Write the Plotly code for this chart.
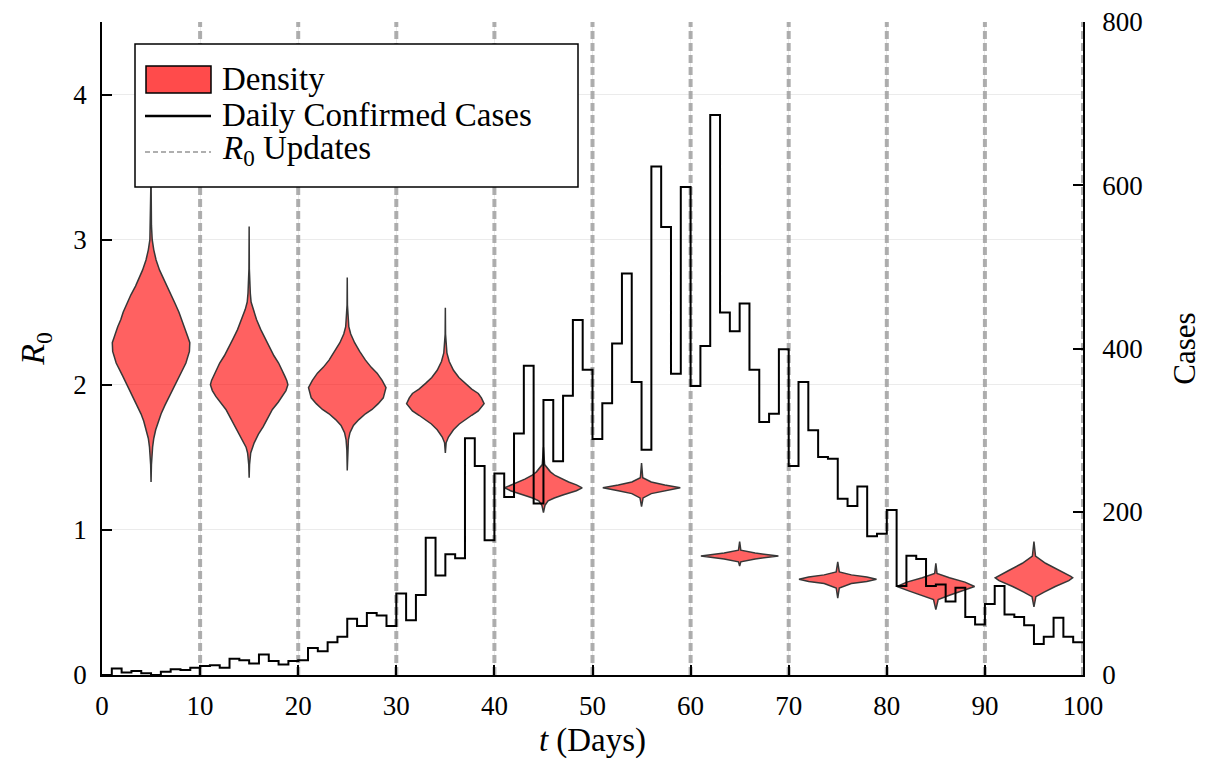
import plotly.graph_objects as go

# ---------------- data ----------------
days = list(range(0, 100))
daily_cases = [0, 8, 3, 5, 2, 0, 4, 7, 6, 9,
               11, 12, 9, 20, 18, 14, 25, 17, 13, 17,
               18, 33, 29, 40, 47, 69, 60, 76, 73, 60,
               100, 67, 98, 168, 122, 148, 143, 290, 256, 165,
               247, 218, 296, 379, 210, 337, 262, 342, 435, 374,
               289, 333, 406, 492, 359, 276, 623, 549, 369, 598,
               354, 403, 686, 444, 421, 455, 374, 310, 320, 399,
               256, 359, 300, 267, 265, 216, 207, 231, 170, 173,
               202, 109, 146, 142, 109, 111, 90, 107, 71, 62,
               87, 109, 74, 71, 61, 38, 47, 70, 47, 40]

update_days = [10, 20, 30, 40, 50, 60, 70, 80, 90, 100]
violin_pos = [5, 15, 25, 35, 45, 55, 65, 75, 85, 95]

# density profiles: R0 levels (ascending) and relative half-widths
v_r = [
    [1.33, 1.45, 1.57, 1.63, 1.69, 1.75, 1.80, 1.86, 1.92, 1.99, 2.06, 2.15, 2.23, 2.29, 2.33, 2.40, 2.45, 2.50, 2.56, 2.62, 2.68, 2.74, 2.79, 2.86, 2.93, 3.00, 3.10, 3.45],
    [1.36, 1.45, 1.53, 1.57, 1.60, 1.66, 1.71, 1.77, 1.83, 1.88, 1.92, 1.96, 2.00, 2.03, 2.06, 2.15, 2.20, 2.26, 2.32, 2.38, 2.45, 2.52, 2.57, 2.63, 2.80, 3.09],
    [1.41, 1.55, 1.62, 1.67, 1.72, 1.76, 1.80, 1.83, 1.87, 1.91, 1.98, 2.03, 2.08, 2.12, 2.17, 2.23, 2.29, 2.35, 2.40, 2.55, 2.74],
    [1.53, 1.60, 1.64, 1.69, 1.73, 1.76, 1.79, 1.82, 1.87, 1.91, 1.94, 1.97, 2.01, 2.05, 2.10, 2.16, 2.22, 2.35, 2.53],
    [1.12, 1.17, 1.20, 1.22, 1.24, 1.27, 1.29, 1.31, 1.33, 1.35, 1.375, 1.40, 1.45, 1.57],
    [1.16, 1.22, 1.25, 1.27, 1.29, 1.31, 1.33, 1.36, 1.46],
    [0.75, 0.78, 0.80, 0.82, 0.84, 0.86, 0.92],
    [0.53, 0.60, 0.63, 0.645, 0.66, 0.675, 0.69, 0.71, 0.78],
    [0.45, 0.52, 0.55, 0.58, 0.61, 0.64, 0.67, 0.70, 0.77],
    [0.47, 0.54, 0.57, 0.61, 0.65, 0.67, 0.68, 0.72, 0.77, 0.82, 0.92],
]
v_w = [
    [0, 0.01, 0.04, 0.07, 0.12, 0.19, 0.26, 0.36, 0.47, 0.60, 0.73, 0.90, 0.99, 1.0, 0.95, 0.86, 0.78, 0.72, 0.62, 0.52, 0.40, 0.30, 0.22, 0.13, 0.07, 0.03, 0.01, 0],
    [0, 0.01, 0.04, 0.08, 0.13, 0.24, 0.36, 0.48, 0.60, 0.75, 0.86, 0.95, 1.0, 0.97, 0.92, 0.76, 0.64, 0.52, 0.41, 0.30, 0.19, 0.10, 0.05, 0.03, 0.005, 0],
    [0, 0.01, 0.03, 0.07, 0.16, 0.30, 0.47, 0.64, 0.80, 0.93, 1.0, 0.90, 0.77, 0.62, 0.47, 0.32, 0.19, 0.09, 0.04, 0.005, 0],
    [0, 0.02, 0.08, 0.21, 0.36, 0.51, 0.68, 0.85, 1.0, 0.93, 0.85, 0.68, 0.51, 0.35, 0.21, 0.10, 0.04, 0.005, 0],
    [0, 0.04, 0.12, 0.28, 0.50, 0.85, 1.0, 0.85, 0.65, 0.48, 0.30, 0.18, 0.03, 0],
    [0, 0.04, 0.25, 0.60, 1.0, 0.60, 0.25, 0.03, 0],
    [0, 0.03, 0.40, 1.0, 0.40, 0.03, 0],
    [0, 0.04, 0.35, 0.75, 1.0, 0.75, 0.35, 0.04, 0],
    [0, 0.06, 0.35, 0.70, 1.0, 0.75, 0.35, 0.03, 0],
    [0, 0.05, 0.25, 0.55, 0.90, 1.0, 0.95, 0.65, 0.30, 0.04, 0],
]

x_ticks = list(range(0, 101, 10))
r_ticks = [0, 1, 2, 3, 4]
case_ticks = [0, 200, 400, 600, 800]

legend_labels = ["Density", "Daily Confirmed Cases", "<i>R</i><sub>0</sub> Updates"]

# ---------------- style ----------------
FONT = "Liberation Serif"
HALF_W = 3.95
VFILL = "rgba(255,0,0,0.62)"
VLINE = "rgba(55,55,55,1)"
DASHC = "rgba(160,160,160,0.85)"

# plot area in pixels (for the hand-drawn legend box)
ML, MR, MT, MB = 102, 125, 22, 91
W, H = 1208, 766
PW, PH = W - ML - MR, H - MT - MB


def px(p):
    return (p - ML) / PW


def py(p):
    return (H - MB - p) / PH


fig = go.Figure()

# R0 update lines (behind everything)
vx, vy = [], []
for d in update_days:
    vx += [d, d, None]
    vy += [0, 4.5, None]
fig.add_trace(go.Scatter(x=vx, y=vy, mode="lines", name="R0 Updates",
                         line=dict(color=DASHC, width=4, dash="8px,4px"),
                         hoverinfo="skip", yaxis="y"))

# violins
for i, (p, rs, ws) in enumerate(zip(violin_pos, v_r, v_w)):
    xs = [p + w * HALF_W for w in ws] + [p - w * HALF_W for w in ws[::-1]]
    ys = list(rs) + list(rs[::-1])
    fig.add_trace(go.Scatter(x=xs, y=ys, mode="lines", fill="toself",
                             fillcolor=VFILL, line=dict(color=VLINE, width=1.5),
                             name="Density", hoverinfo="skip", yaxis="y"))

# daily cases step line
sx = days + [days[-1] + 1]
sy = daily_cases + [daily_cases[-1]]
fig.add_trace(go.Scatter(x=sx, y=sy, mode="lines", line_shape="hv",
                         line=dict(color="black", width=2),
                         name="Daily Confirmed Cases", yaxis="y2"))

axis_common = dict(showline=True, linecolor="black", linewidth=1.5,
                   ticks="inside", ticklen=10, tickwidth=1.5, tickcolor="black",
                   tickfont=dict(family=FONT, size=27, color="black"),
                   zeroline=False, automargin=False)

# legend (drawn as shapes + text so the swatches match)
shapes = [
    dict(type="rect", xref="paper", yref="paper", layer="above",
         x0=px(135), x1=px(578), y0=py(187), y1=py(44),
         line=dict(color="black", width=1.5), fillcolor="white"),
    dict(type="rect", xref="paper", yref="paper", layer="above",
         x0=px(146), x1=px(211), y0=py(93), y1=py(66),
         line=dict(color="black", width=1.5), fillcolor="rgba(255,75,75,1)"),
    dict(type="line", xref="paper", yref="paper", layer="above",
         x0=px(145), x1=px(211), y0=py(116), y1=py(116),
         line=dict(color="black", width=2.5)),
    dict(type="line", xref="paper", yref="paper", layer="above",
         x0=px(145), x1=px(211), y0=py(152), y1=py(152),
         line=dict(color="rgba(175,175,175,1)", width=2, dash="5px,3px")),
]
legend_y = [79, 115, 150]
annotations = [
    dict(xref="paper", yref="paper", x=px(220), y=py(yy), text=t,
         showarrow=False, xanchor="left", yanchor="middle",
         font=dict(family=FONT, size=33, color="black"))
    for t, yy in zip(legend_labels, legend_y)
]

fig.update_layout(
    width=W, height=H,
    margin=dict(l=ML, r=MR, t=MT, b=MB),
    paper_bgcolor="white", plot_bgcolor="white",
    font=dict(family=FONT, color="black"),
    showlegend=False,
    xaxis=dict(range=[0, 100], tickvals=x_ticks, showgrid=True,
               gridcolor="rgba(0,0,0,0.08)", gridwidth=1,
               title=dict(text="<i>t</i> (Days)", font=dict(family=FONT, size=33), standoff=8),
               ticklabelstandoff=6, **axis_common),
    yaxis=dict(range=[0, 4.5], tickvals=r_ticks, showgrid=True,
               gridcolor="rgba(0,0,0,0.08)", gridwidth=1,
               title=dict(text="<i>R</i><sub>0</sub>", font=dict(family=FONT, size=34), standoff=18),
               ticklabelstandoff=8, **axis_common),
    yaxis2=dict(range=[0, 800], tickvals=case_ticks, overlaying="y", side="right",
                anchor="x", showgrid=False,
                title=dict(text="Cases", font=dict(family=FONT, size=31), standoff=32),
                ticklabelstandoff=12, **axis_common),
    shapes=shapes,
    annotations=annotations,
)

fig.write_html("out.html")
